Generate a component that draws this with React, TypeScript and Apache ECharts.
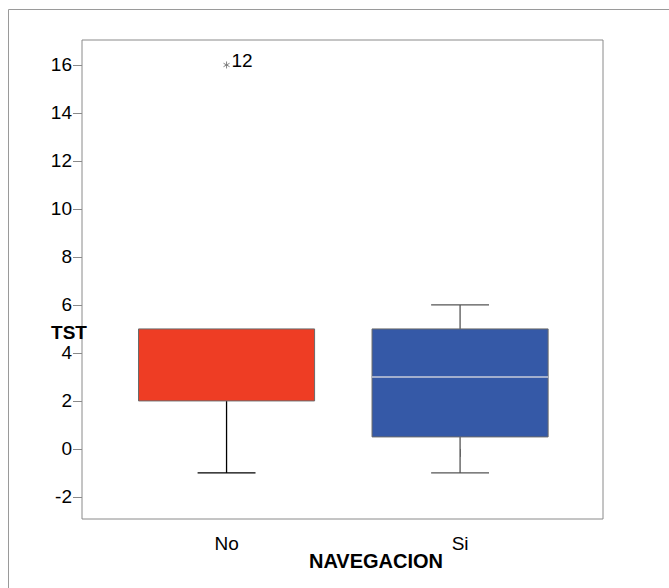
import React, { useEffect, useRef } from "react";
import * as echarts from "echarts";

// Categories on the x axis
const categories = ["No", "Si"];
// Boxplot summaries: [position, lowerWhisker, Q1, median, Q3, upperWhisker]
const boxNo = [1, -1, 2, 5, 5, 5];
const boxSi = [2, -1, 0.5, 3, 5, 6];
const boxColors = ["#EE3D24", "#3559A7"];
const whiskerColors = ["#000000", "#555555"];
// Extreme outliers: [position, value, case label]
const outliers: [number, number, string][] = [[1, 16, "12"]];
// Axis ticks
const yTicks = [-2, 0, 2, 4, 6, 8, 10, 12, 14, 16];
const xTicks = [1, 2];

const FONT = "'Liberation Sans', Arial, sans-serif";

export default function App() {
  const ref = useRef<HTMLDivElement>(null);

  useEffect(() => {
    document.body.style.margin = "0";
    if (!ref.current) return;
    const chart = echarts.init(ref.current, undefined, { renderer: "svg" });

    const option: any = {
      animation: false,
      backgroundColor: "#ffffff",
      grid: {
        left: 82,
        right: 66,
        top: 40,
        bottom: 69,
        show: true,
        borderColor: "#8a8a8a",
        borderWidth: 1,
        backgroundColor: "transparent",
      },
      xAxis: {
        type: "value",
        min: 0.381,
        max: 2.612,
        axisLine: { show: false },
        splitLine: { show: false },
        axisTick: {
          show: true,
          customValues: xTicks,
          length: 8,
          lineStyle: { color: "#8a8a8a", width: 1 },
        },
        axisLabel: {
          customValues: xTicks,
          formatter: (v: number) => categories[Math.round(v) - 1] ?? "",
          fontSize: 19,
          color: "#000",
          fontFamily: FONT,
          margin: 15,
        },
      },
      yAxis: {
        type: "value",
        min: -2.92,
        max: 17.04,
        axisLine: { show: false },
        splitLine: { show: false },
        axisTick: {
          show: true,
          customValues: yTicks,
          length: 9,
          lineStyle: { color: "#8a8a8a", width: 1 },
        },
        axisLabel: {
          customValues: yTicks,
          fontSize: 19,
          color: "#000",
          fontFamily: FONT,
          margin: 10,
        },
      },
      series: [
        {
          type: "custom",
          data: [boxNo, boxSi],
          encode: { x: 0, y: [1, 2, 3, 4, 5] },
          renderItem: (params: any, api: any) => {
            const x = api.value(0);
            const lo = api.value(1);
            const q1 = api.value(2);
            const med = api.value(3);
            const q3 = api.value(4);
            const hi = api.value(5);
            const unit = api.size([1, 0])[0];
            const half = unit * 0.377;
            const cap = unit * 0.124;
            const pLo = api.coord([x, lo]);
            const pQ1 = api.coord([x, q1]);
            const pMed = api.coord([x, med]);
            const pQ3 = api.coord([x, q3]);
            const pHi = api.coord([x, hi]);
            const cx = pQ1[0];
            const wc = whiskerColors[params.dataIndex];
            const children: any[] = [];
            if (lo < q1) {
              children.push({
                type: "line",
                shape: { x1: cx, y1: pLo[1], x2: cx, y2: pQ1[1] },
                style: { stroke: wc, lineWidth: 1.3 },
              });
              children.push({
                type: "line",
                shape: { x1: cx - cap, y1: pLo[1], x2: cx + cap, y2: pLo[1] },
                style: { stroke: wc, lineWidth: 1.3 },
              });
            }
            if (hi > q3) {
              children.push({
                type: "line",
                shape: { x1: cx, y1: pHi[1], x2: cx, y2: pQ3[1] },
                style: { stroke: wc, lineWidth: 1.3 },
              });
              children.push({
                type: "line",
                shape: { x1: cx - cap, y1: pHi[1], x2: cx + cap, y2: pHi[1] },
                style: { stroke: wc, lineWidth: 1.3 },
              });
            }
            children.push({
              type: "rect",
              shape: {
                x: cx - half,
                y: pQ3[1],
                width: half * 2,
                height: pQ1[1] - pQ3[1],
              },
              style: {
                fill: boxColors[params.dataIndex],
                stroke: "#6a6a6a",
                lineWidth: 1,
              },
            });
            if (med > q1 && med < q3) {
              children.push({
                type: "line",
                shape: { x1: cx - half, y1: pMed[1], x2: cx + half, y2: pMed[1] },
                style: { stroke: "#C9CCDA", lineWidth: 1.5 },
              });
            }
            return { type: "group", children };
          },
        },
        {
          type: "custom",
          data: outliers,
          encode: { x: 0, y: 1 },
          renderItem: (params: any, api: any) => {
            const p = api.coord([api.value(0), api.value(1)]);
            const r = 3.5;
            const label = outliers[params.dataIndex][2];
            return {
              type: "group",
              children: [
                {
                  type: "line",
                  shape: { x1: p[0], y1: p[1] - r, x2: p[0], y2: p[1] + r },
                  style: { stroke: "#777", lineWidth: 0.9 },
                },
                {
                  type: "line",
                  shape: { x1: p[0] - r * 0.87, y1: p[1] - r * 0.5, x2: p[0] + r * 0.87, y2: p[1] + r * 0.5 },
                  style: { stroke: "#777", lineWidth: 0.9 },
                },
                {
                  type: "line",
                  shape: { x1: p[0] - r * 0.87, y1: p[1] + r * 0.5, x2: p[0] + r * 0.87, y2: p[1] - r * 0.5 },
                  style: { stroke: "#777", lineWidth: 0.9 },
                },
                {
                  type: "text",
                  x: p[0] + 5,
                  y: p[1] - 4,
                  style: {
                    text: label,
                    fontSize: 19,
                    fontFamily: FONT,
                    fill: "#000",
                    textAlign: "left",
                    textVerticalAlign: "middle",
                  },
                },
              ],
            };
          },
        },
      ],
      graphic: [
        {
          type: "polyline",
          shape: { points: [[8.5, 588], [8.5, 9.5], [669, 9.5]] },
          style: { stroke: "#9a9a9a", lineWidth: 1, fill: "none" },
          silent: true,
        },
        {
          type: "text",
          x: 69,
          y: 332,
          style: {
            text: "TST",
            fontSize: 19,
            fontWeight: "bold",
            fontFamily: FONT,
            fill: "#000",
            textAlign: "center",
            textVerticalAlign: "middle",
          },
        },
        {
          type: "text",
          x: 376,
          y: 561,
          style: {
            text: "NAVEGACION",
            fontSize: 20,
            fontWeight: "bold",
            fontFamily: FONT,
            fill: "#000",
            textAlign: "center",
            textVerticalAlign: "middle",
          },
        },
      ],
    };

    chart.setOption(option);
    return () => chart.dispose();
  }, []);

  return (
    <div
      ref={ref}
      style={{ width: 669, height: 588, position: "absolute", left: 0, top: 0 }}
    />
  );
}
